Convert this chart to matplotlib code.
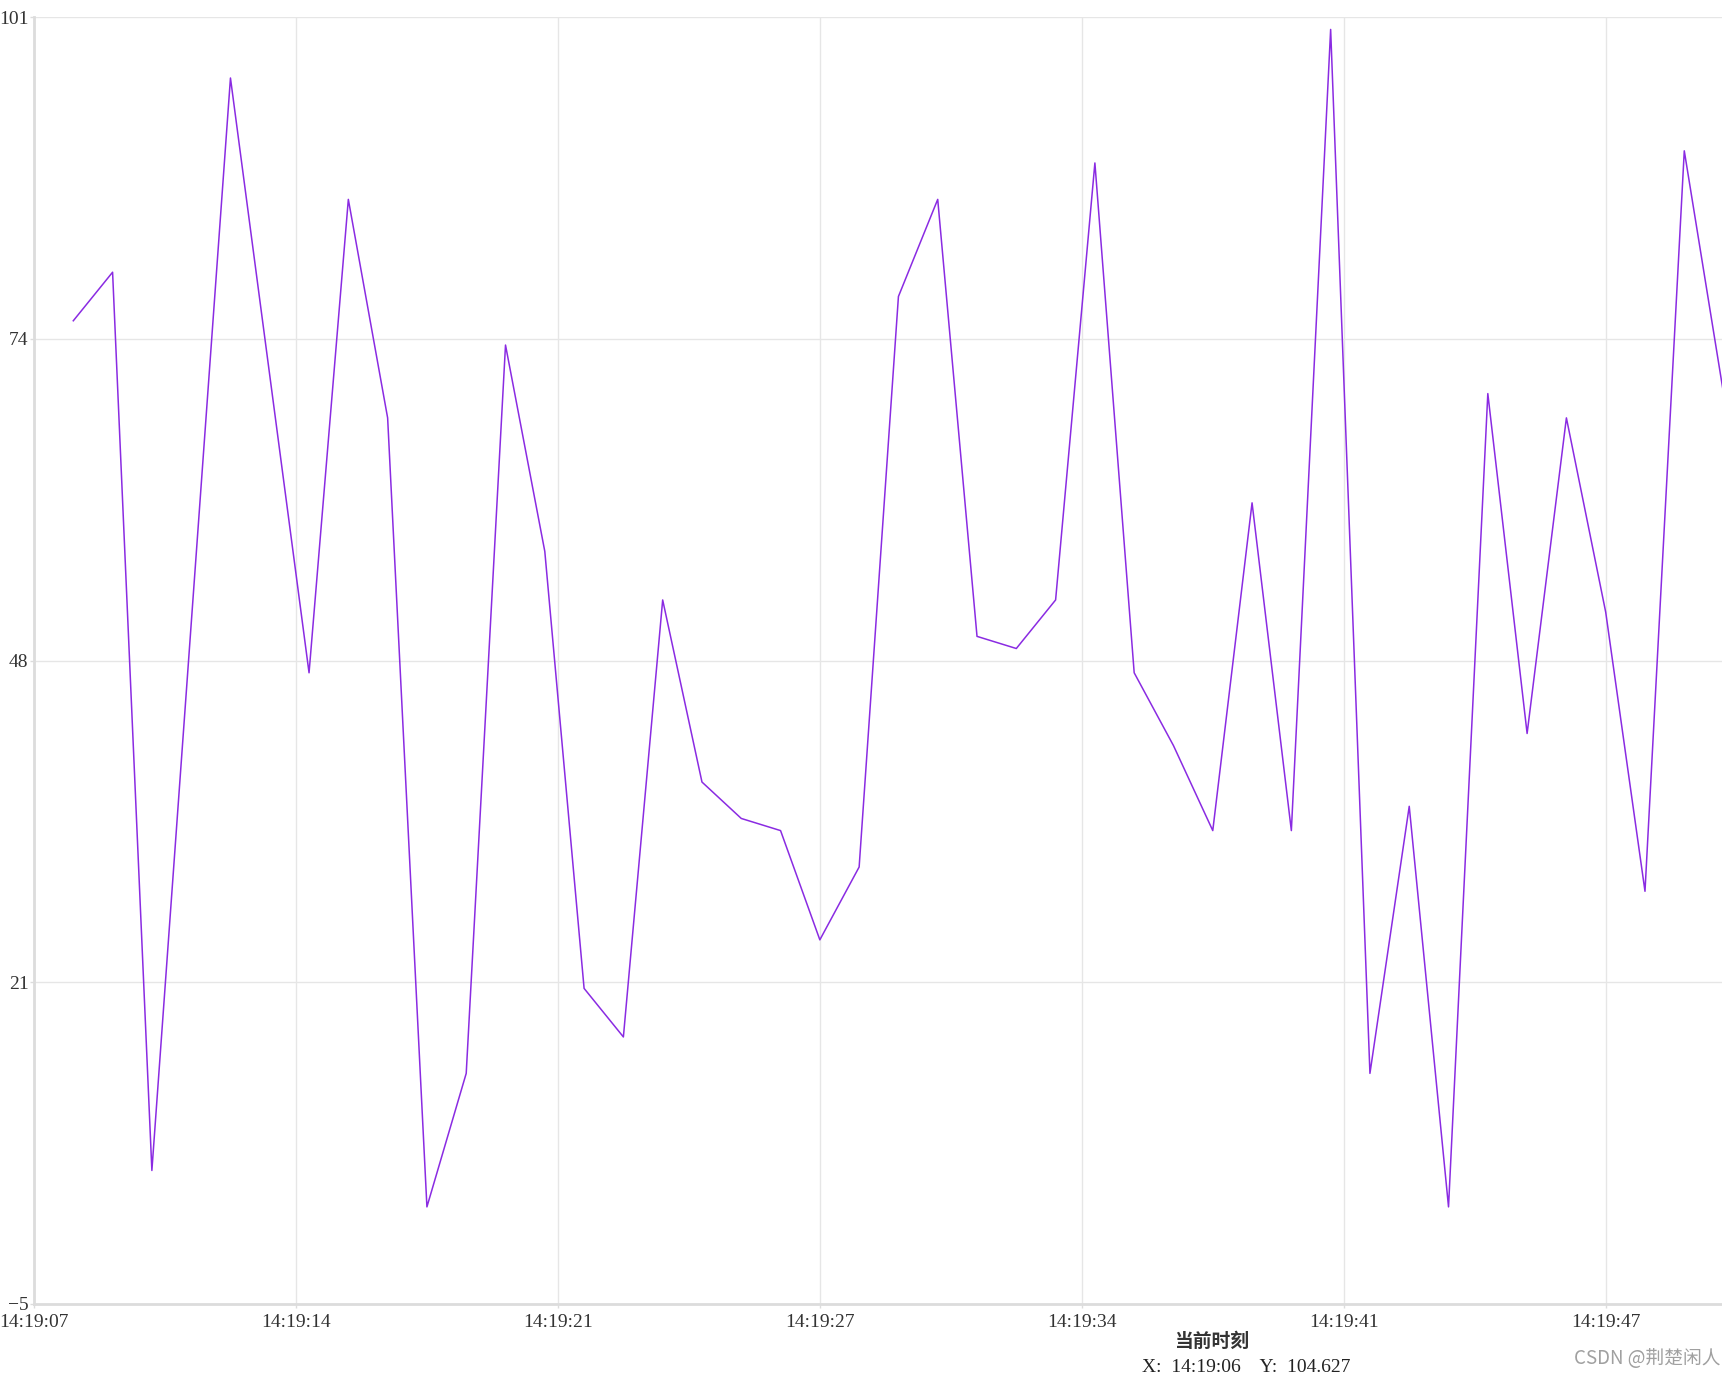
import matplotlib
matplotlib.use("Agg")
import matplotlib.pyplot as plt

# seconds after 14:19:07 and the sampled values
t = [1, 2, 3, 5, 7, 8, 9, 10, 11, 12, 13, 14, 15, 16, 17, 18, 19, 20, 21, 22,
     23, 24, 25, 26, 27, 28, 29, 30, 31, 32, 33, 34, 35, 36, 37, 38, 39, 40,
     41, 42, 43]
vals = [76, 80, 6, 96, 47, 86, 68, 3, 14, 74, 57, 21, 17, 53, 38, 35, 34, 25,
        31, 78, 86, 50, 49, 53, 89, 47, 41, 34, 61, 34, 100, 14, 36, 3, 70, 42,
        68, 52, 29, 90, 70]

xtick_pos = [0, 20 / 3, 40 / 3, 20, 80 / 3, 100 / 3, 40]
xtick_labels = ["14:19:07", "14:19:14", "14:19:21", "14:19:27",
                "14:19:34", "14:19:41", "14:19:47"]
ytick_pos = [-5, 21.5, 48, 74.5, 101]
ytick_labels = ["\u22125", "21", "48", "74", "101"]

serif = ["Liberation Serif", "Noto Sans CJK SC"]

fig = plt.figure(figsize=(17.22, 13.76), dpi=100)
ax = fig.add_axes([34 / 1722, 1 - 1304 / 1376, 1 - 34 / 1722, (1304 - 17.3) / 1376])

ax.plot(t, vals, color="#8A2BE2", lw=1.1)

ax.set_xlim(0, 42.96)
ax.set_ylim(-5, 101)
ax.set_xticks(xtick_pos)
ax.set_xticklabels(xtick_labels)
ax.set_yticks(ytick_pos)
ax.set_yticklabels(ytick_labels)

ax.grid(True, color="#e6e6e6", lw=1.0)
ax.set_axisbelow(True)
for s in ["top", "right"]:
    ax.spines[s].set_visible(False)
for s in ["left", "bottom"]:
    ax.spines[s].set_color("#dcdcdc")
    ax.spines[s].set_linewidth(2)

ax.tick_params(axis="both", colors="#dcdcdc", length=3, width=1, labelcolor="#333333")
ax.tick_params(axis="y", pad=1)
ax.tick_params(axis="x", pad=4)
for lab in ax.get_xticklabels() + ax.get_yticklabels():
    lab.set_family(serif)
    lab.set_fontsize(14)

fig.text(1212 / 1722, 1 - 1342 / 1376, "当前时刻", ha="center", va="center",
         fontsize=13.5, fontweight="bold", color="#333333", family=serif)
fig.text(1246 / 1722, 1 - 1368 / 1376, "X:  14:19:06    Y:  104.627", ha="center",
         va="center", fontsize=14, color="#222222", family=serif)
fig.text(1721 / 1722, 1 - 1358 / 1376, "CSDN @荆楚闲人", ha="right", va="center",
         fontsize=13.5, color="#a0a0a0", family=["Noto Sans CJK SC", "DejaVu Sans"])

fig.savefig("out.png", dpi=100)
